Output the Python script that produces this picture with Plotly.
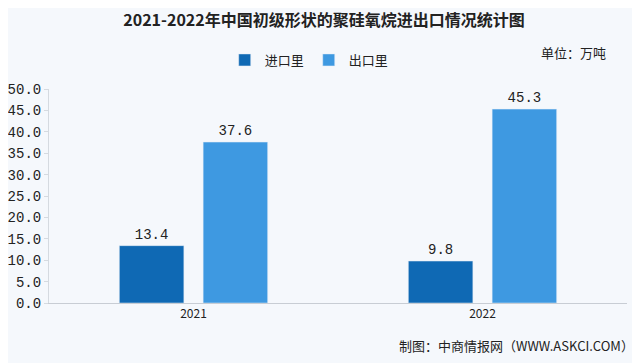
import plotly.graph_objects as go

years = ["2021", "2022"]
imports = [13.4, 9.8]
exports = [37.6, 45.3]
series_names = ["进口里", "出口里"]
tick_vals = [0, 5, 10, 15, 20, 25, 30, 35, 40, 45, 50]
tick_text = [f"{v:.1f}" for v in tick_vals]

c_imp = "#0F69B4"
c_exp = "#3E99E1"
num_font = dict(family="Liberation Mono, DejaVu Sans Mono, monospace", size=14, color="#222")

W, H = 632, 355
L, R, T, B = 41, 13, 81, 60
plot_w = W - L - R
plot_h = H - T - B

fig = go.Figure()
fig.add_trace(go.Bar(x=years, y=imports, name=series_names[0], marker_color=c_imp,
                     text=[f"{v:.1f}" for v in imports], textposition="outside",
                     textfont=num_font, cliponaxis=False))
fig.add_trace(go.Bar(x=years, y=exports, name=series_names[1], marker_color=c_exp,
                     text=[f"{v:.1f}" for v in exports], textposition="outside",
                     textfont=num_font, cliponaxis=False))

fig.update_layout(
    width=W, height=H,
    paper_bgcolor="#F5F8FC", plot_bgcolor="#F5F8FC",
    margin=dict(l=L, r=R, t=T, b=B, autoexpand=False),
    barmode="group", bargap=0.42, bargroupgap=0.23,
    font=dict(family="Noto Sans CJK SC", color="#222"),
    title=dict(text="<b>2021-2022年中国初级形状的聚硅氧烷进出口情况统计图</b>",
               x=0.5, xanchor="center", y=1 - 12 / H, yanchor="middle",
               font=dict(size=16, color="#222", family="Noto Sans CJK SC")),
    legend=dict(orientation="h", x=0.304, xanchor="left", y=1 + 29 / plot_h, yanchor="middle",
                font=dict(size=13), bgcolor="rgba(0,0,0,0)",
                traceorder="normal"),
    showlegend=True,
    xaxis=dict(showline=True, linecolor="#C8CDD4", linewidth=1, mirror=False,
               tickfont=dict(size=12, family="Noto Sans CJK SC"), ticks="",
               showgrid=False, zeroline=False, automargin=False),
    yaxis=dict(range=[0, 50], tickvals=tick_vals, ticktext=tick_text,
               tickfont=num_font, showline=True, linecolor="#D5DAE0",
               showgrid=False, zeroline=False, ticks="outside", ticklen=4,
               tickcolor="#D5DAE0", automargin=False),
)

fig.add_annotation(text="单位：万吨", xref="paper", yref="paper",
                   x=(600 - L) / plot_w, y=1 + (T - 45) / plot_h,
                   xanchor="right", yanchor="middle", showarrow=False,
                   font=dict(size=13, color="#222"))
fig.add_annotation(text="制图：中商情报网（WWW.ASKCI.COM）", xref="paper", yref="paper",
                   x=(628 - L) / plot_w, y=-(337 - (H - B)) / plot_h,
                   xanchor="right", yanchor="middle", showarrow=False,
                   font=dict(size=13, color="#222"))

fig.write_html("out.html")
